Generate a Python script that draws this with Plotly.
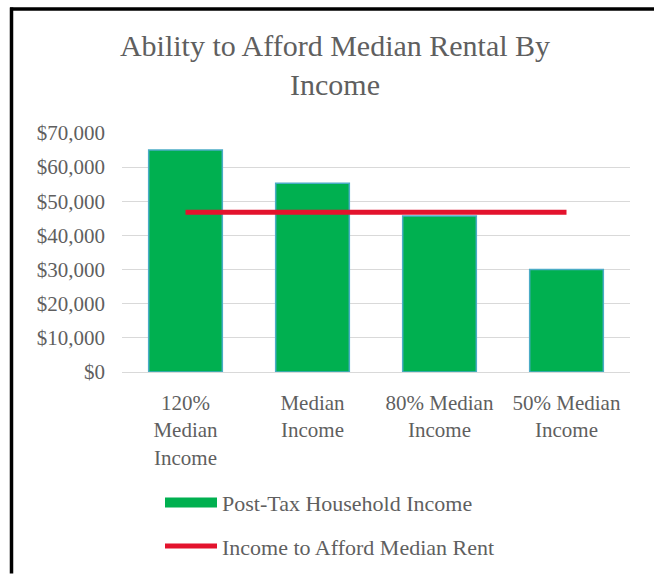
import plotly.graph_objects as go

categories = ["120%<br>Median<br>Income", "Median<br>Income", "80% Median<br>Income", "50% Median<br>Income"]
post_tax_income = [65000, 55300, 45700, 30000]
afford_rent_income = [46800, 46800, 46800, 46800]
y_ticks = [0, 10000, 20000, 30000, 40000, 50000, 60000, 70000]
y_tick_labels = ["$0", "$10,000", "$20,000", "$30,000", "$40,000", "$50,000", "$60,000", "$70,000"]

FONT = "Liberation Serif"
GREY = "#5f5f5f"
BAR_NAME = "Post-Tax Household Income"
LINE_NAME = "Income to Afford Median Rent"

fig = go.Figure()
fig.add_trace(go.Bar(
    x=categories, y=post_tax_income, name=BAR_NAME, showlegend=False,
    marker=dict(color="#00b050", line=dict(color="#4bacc6", width=1.5)),
))
# legend entry drawn as a wide green swatch, like the reference
fig.add_trace(go.Scatter(
    x=[None], y=[None], name=BAR_NAME, legendgroup="a", mode="lines",
    line=dict(color="#00b050", width=11),
))
fig.add_trace(go.Scatter(
    x=categories, y=afford_rent_income, name=LINE_NAME,
    legendgroup="b",
    mode="lines", line=dict(color="#e3132d", width=5),
))

L, R, T, B = 122, 24, 133, 204
W, H = 654, 579
pw, ph = W - L - R, H - T - B

def px(x):
    return (x - L) / pw

def py(y):
    return (H - B - y) / ph

fig.update_layout(
    width=W, height=H,
    margin=dict(l=L, r=R, t=T, b=B),
    paper_bgcolor="white", plot_bgcolor="white",
    font=dict(family=FONT, color=GREY, size=21),
    title=dict(text="Ability to Afford Median Rental By<br>Income", x=335 / W, xref="container",
               xanchor="center", y=1 - 56 / H, yanchor="middle",
               font=dict(family=FONT, size=30, color=GREY)),
    bargap=0.42,
    showlegend=True,
    legend=dict(orientation="v", x=px(160), xanchor="left", y=py(486), yanchor="top",
                font=dict(family=FONT, size=22, color=GREY), tracegroupgap=12,
                itemwidth=52),
    xaxis=dict(showgrid=False, showline=False, ticks="", ticklabelstandoff=16,
               tickfont=dict(size=21, color=GREY)),
    yaxis=dict(range=[0, 70000], tickvals=y_ticks, ticktext=y_tick_labels,
               showgrid=True, gridcolor="#d9d9d9", gridwidth=1.2, zeroline=True,
               zerolinecolor="#d9d9d9", zerolinewidth=1.2, ticks="", ticklabelstandoff=16,
               tickfont=dict(size=21, color=GREY)),
    shapes=[
        dict(type="line", xref="paper", yref="paper", x0=px(10), x1=px(654), y0=py(7.5), y1=py(7.5),
             line=dict(color="black", width=3.5)),
        dict(type="line", xref="paper", yref="paper", x0=px(11.5), x1=px(11.5), y0=py(6), y1=py(579),
             line=dict(color="black", width=3.5)),
    ],
)

fig.write_html("out.html", config={"displayModeBar": False},
               post_script="document.body.style.margin='0';document.body.style.overflow='hidden';")
